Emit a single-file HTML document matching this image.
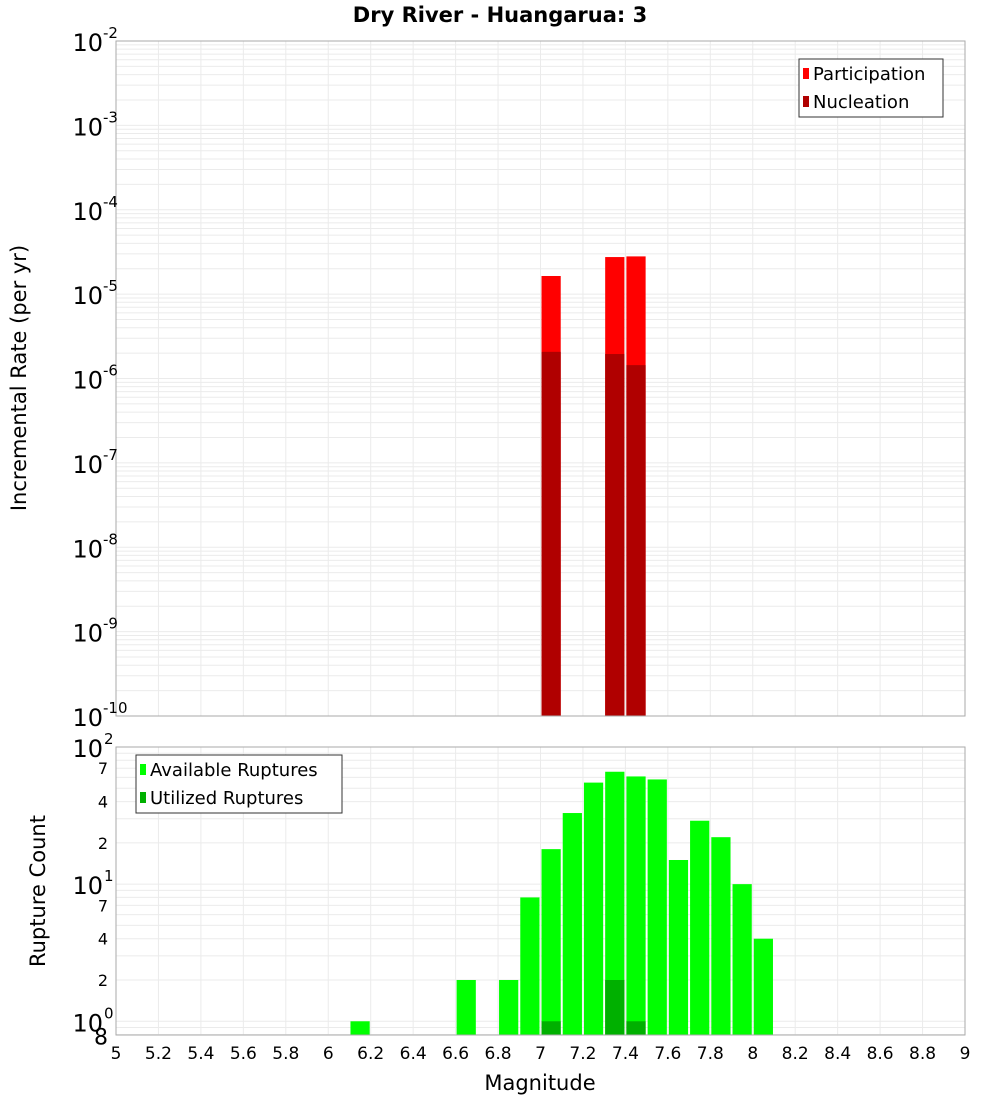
<!DOCTYPE html>
<html><head><meta charset="utf-8"><style>
body{margin:0;background:#fff;font-family:"Liberation Sans","DejaVu Sans",sans-serif}
</style></head><body>
<svg id="c" width="1000" height="1100" xmlns="http://www.w3.org/2000/svg" font-family="DejaVu Sans, Liberation Sans, sans-serif"></svg>
<script>
const partMags=[7.05,7.35,7.45];
const partVals=[1.64e-5,2.75e-5,2.8e-5];
const nuclVals=[2.07e-6,1.95e-6,1.44e-6];
const availMags=[6.15,6.65,6.85,6.95,7.05,7.15,7.25,7.35,7.45,7.55,7.65,7.75,7.85,7.95,8.05];
const availVals=[1,2,2,8,18,33,55,66,61,58,15,29,22,10,4];
const utilMags=[7.05,7.35,7.45];
const utilVals=[1,2,1];
const xTicks=[5,5.2,5.4,5.6,5.8,6,6.2,6.4,6.6,6.8,7,7.2,7.4,7.6,7.8,8,8.2,8.4,8.6,8.8,9];
const topExps=[-2,-3,-4,-5,-6,-7,-8,-9,-10];
const botMinor=[[70,"7"],[40,"4"],[20,"2"],[7,"7"],[4,"4"],[2,"2"],[0.8,"8"]];

const svg=document.getElementById('c');
const NS='http://www.w3.org/2000/svg';
function mk(t,a,p){const e=document.createElementNS(NS,t);for(const k in a)e.setAttribute(k,a[k]);(p||svg).appendChild(e);return e;}
const L=116,R=965;
const xs=m=>L+(m-5)/4*(R-L);
const T1=41,B1=716, yTop=v=>T1+(-2-Math.log10(v))/8*(B1-T1);
const T2=747,B2=1035,lmin=-0.1,lmax=2, yBot=v=>T2+(lmax-Math.log10(v))/(lmax-lmin)*(B2-T2);

let t=mk('text',{x:500,y:22,'text-anchor':'middle','font-size':21,'font-weight':'bold'});t.textContent='Dry River - Huangarua: 3';


// grids
const g=mk('g',{stroke:'#ebebeb','stroke-width':1});

xTicks.forEach(m=>{mk('line',{x1:xs(m),x2:xs(m),y1:T1,y2:B1},g);mk('line',{x1:xs(m),x2:xs(m),y1:T2,y2:B2},g);});
for(let e=-10;e<-2;e++)for(let k=1;k<10;k++){const y=yTop(k*Math.pow(10,e));mk('line',{x1:L,x2:R,y1:y,y2:y},g);}
for(let e=-1;e<2;e++)for(let k=1;k<10;k++){const v=k*Math.pow(10,e);if(Math.log10(v)<lmin)continue;const y=yBot(v);mk('line',{x1:L,x2:R,y1:y,y2:y},g);}

// top bars
partMags.forEach((m,i)=>{
 let r=mk('rect',{x:xs(m-0.05)+1,width:xs(0.1+5)-L-2,y:yTop(partVals[i]),height:B1-yTop(partVals[i]),fill:'#ff0000'});
 
 r=mk('rect',{x:xs(m-0.05)+1,width:xs(0.1+5)-L-2,y:yTop(nuclVals[i]),height:B1-yTop(nuclVals[i]),fill:'#b00000'});
 
});
availMags.forEach((m,i)=>{
 const r=mk('rect',{x:xs(m-0.05)+1,width:xs(0.1+5)-L-2,y:yBot(availVals[i]),height:B2-yBot(availVals[i]),fill:'#00ff00'});
 
});
utilMags.forEach((m,i)=>{
 const r=mk('rect',{x:xs(m-0.05)+1,width:xs(0.1+5)-L-2,y:yBot(utilVals[i]),height:B2-yBot(utilVals[i]),fill:'#00b000'});
 
});
// frames
let f=mk('rect',{x:L,y:T1,width:R-L,height:B1-T1,fill:'none',stroke:'#aaa'});
f=mk('rect',{x:L,y:T2,width:R-L,height:B2-T2,fill:'none',stroke:'#aaa'});

// top y labels
topExps.forEach(e=>{const y=yTop(Math.pow(10,e));
 const tt=mk('text',{x:103,y:y+10,'text-anchor':'end','font-size':24});tt.textContent='10';
 
 const s=mk('text',{x:103,y:y-3,'font-size':15});s.textContent=String(e);
 
});
[2,1,0].forEach(e=>{const y=yBot(Math.pow(10,e));
 const tt=mk('text',{x:103,y:y+10,'text-anchor':'end','font-size':24});tt.textContent='10';
 
 const s=mk('text',{x:104,y:y-3,'font-size':15});s.textContent=String(e);
 
});
botMinor.forEach(([v,l])=>{const tt=mk('text',{x:108,y:yBot(v)+6,'text-anchor':'end','font-size':16});tt.textContent=l;
 if(v===0.8){tt.setAttribute('font-size',22);tt.setAttribute('y',yBot(v)+10);}
 });
xTicks.forEach(m=>{const tt=mk('text',{x:xs(m),y:1059,'text-anchor':'middle','font-size':17});tt.textContent=String(m);
 });

t=mk('text',{x:540,y:1090,'text-anchor':'middle','font-size':21});t.textContent='Magnitude';

t=mk('text',{x:0,y:0,'text-anchor':'middle','font-size':21,transform:'translate(26,378) rotate(-90)'});t.textContent='Incremental Rate (per yr)';

t=mk('text',{x:0,y:0,'text-anchor':'middle','font-size':21,transform:'translate(45,891) rotate(-90)'});t.textContent='Rupture Count';


function legend(x,y,w,items,name){
 const lg=mk('g',{});
 mk('rect',{x:x,y:y,width:w,height:58,fill:'#fff',stroke:'#333'},lg);
 items.forEach(([c,l],i)=>{mk('rect',{x:x+4,y:y+9+i*28,width:6,height:11,fill:c},lg);
  const tt=mk('text',{x:x+14,y:y+21+i*28,'font-size':18},lg);tt.textContent=l;
  });
}
legend(799,59,144,[['#ff0000','Participation'],['#b00000','Nucleation']],'top-legend');
legend(136,755,206,[['#00ff00','Available Ruptures'],['#00b000','Utilized Ruptures']],'bottom-legend');
</script>
</body></html>
